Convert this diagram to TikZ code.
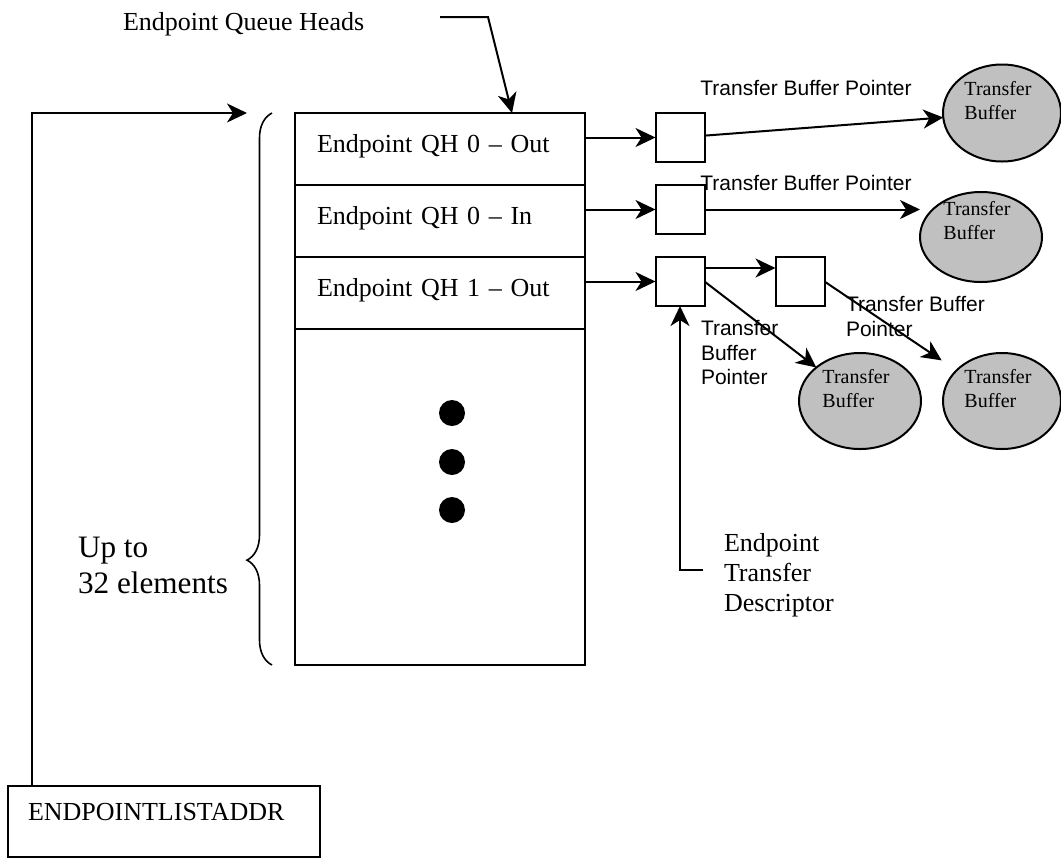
\documentclass[tikz,border=0pt]{standalone}
\usepackage{fontspec}
\setmainfont{Liberation Serif}
\setsansfont{Liberation Sans}
\usepackage{xcolor}
\usepackage{tikz}
\usetikzlibrary{arrows.meta,positioning,shapes.geometric,decorations.pathreplacing}
\definecolor{bufgray}{RGB}{192,192,192}

\begin{document}
\begin{tikzpicture}[
  x=0.5pt, y=-0.5pt,
  line width=1pt,
  font=\fontsize{13}{15}\selectfont,
  qh/.style={draw, outer sep=0pt, minimum width=145pt, minimum height=36pt, text width=123pt, inner xsep=11pt, align=left, text depth=6pt},
  ptr/.style={draw, outer sep=0pt, minimum size=24.5pt, inner sep=0pt},
  buf/.style={ellipse, draw, fill=bufgray, inner sep=0pt, outer sep=0pt},
  buftxt/.style={align=left, inner sep=0pt, xshift=-2pt, font=\fontsize{10}{12}\selectfont},
  tbp/.style={align=left, inner sep=0pt, font=\sffamily\fontsize{10.5}{12.25}\selectfont},
  dot/.style={circle, fill, minimum size=13pt, inner sep=0pt},
  arr/.style={-{Stealth[length=10pt, width=9.5pt, inset=3pt]}}]
\useasboundingbox (0,0) rectangle (1061,858);
% ---------------- queue head list ----------------
\node[qh, anchor=north west] (qh0out) at (295,113) {Endpoint QH 0 – Out};
\node[qh, below=0pt of qh0out] (qh0in) {Endpoint QH 0 – In};
\node[qh, below=0pt of qh0in] (qh1out) {Endpoint QH 1 – Out};
\node[qh, below=0pt of qh1out, minimum height=168pt] (qhrest) {};
\node[dot] (dot1) at (452,413) {};
\node[dot] (dot2) at (452,462) {};
\node[dot] (dot3) at (452,510) {};
\draw[decorate, decoration={brace, amplitude=12.5pt, aspect=0.19}, line width=0.8pt]
  ([xshift=-11.5pt]qhrest.south west) -- ([xshift=-11.5pt]qh0out.north west);
\node[anchor=south west, align=left, inner sep=0pt, font=\fontsize{15.6}{18}\selectfont] (upto) at (77,595) {Up to\\32 elements};
\node[anchor=west, inner sep=0pt] (qhlbl) at (122,24) {Endpoint Queue Heads};
\coordinate (qhsrc) at (440,17);
\draw[arr] (qhsrc) -- ++(48,0) -- ([xshift=36pt]qh0out.north);
% ---------------- list address ----------------
\node[draw, anchor=north west, outer sep=0pt, minimum width=156pt, minimum height=35.5pt, text width=136pt, inner xsep=10pt, align=left, text depth=9.4pt] (addr) at (8,786) {ENDPOINTLISTADDR};
\draw[arr] ([xshift=12pt]addr.north west) |- ([xshift=-24pt]qh0out.north west);
% ---------------- transfer descriptors ----------------
\node[ptr] (box1) at (680,137.5) {};
\node[ptr] (box2) at (680,209.5) {};
\node[ptr] (box3) at (680,281.5) {};
\node[ptr] (box4) at (800,281.5) {};
\draw[arr] (qh0out.east |- box1) -- (box1);
\draw[arr] (qh0in.east |- box2) -- (box2);
\draw[arr] (qh1out.east |- box3) -- (box3);
\draw[arr] ([yshift=-5.5pt]box3.north east) -- ([yshift=-5.5pt]box4.north west);
\node[anchor=south west, align=left, inner sep=0pt] (etd) at (723,618) {Endpoint\\Transfer\\Descriptor};
\coordinate (etdarm) at (703,570);
\draw[arr] (etdarm) -| (box3);
% ---------------- transfer buffers ----------------
\node[buf, minimum width=59pt, minimum height=48.5pt] (tb1) at (1002,113) {};
\node[buf, minimum width=61pt, minimum height=45pt] (tb2) at (981,237) {};
\node[buf, minimum width=61pt, minimum height=48pt] (tb3) at (860,401) {};
\node[buf, minimum width=59pt, minimum height=48pt] (tb4) at (1002,401) {};
\node[buftxt, yshift=6pt] (tb1txt) at (tb1) {Transfer\\Buffer};
\node[buftxt, yshift=8pt] (tb2txt) at (tb2) {Transfer\\Buffer};
\node[buftxt, yshift=6pt] (tb3txt) at (tb3) {Transfer\\Buffer};
\node[buftxt, yshift=6pt] (tb4txt) at (tb4) {Transfer\\Buffer};
\draw[arr] (box1) -- (tb1);
\draw[arr] (box2) -- (box2 -| tb2.west);
\draw[arr] (box3.east) -- (tb3);
\draw[arr, shorten >=9pt] (box4.east) -- (tb4);
\node[tbp] (tbp1) at (806,88) {Transfer Buffer Pointer};
\node[tbp] (tbp2) at (806,183) {Transfer Buffer Pointer};
\node[tbp, anchor=west] (tbp3) at (700,352.5) {Transfer\\Buffer\\Pointer};
\node[tbp, anchor=west] (tbp4) at (845,316.5) {Transfer Buffer\\Pointer};
\end{tikzpicture}
\end{document}
